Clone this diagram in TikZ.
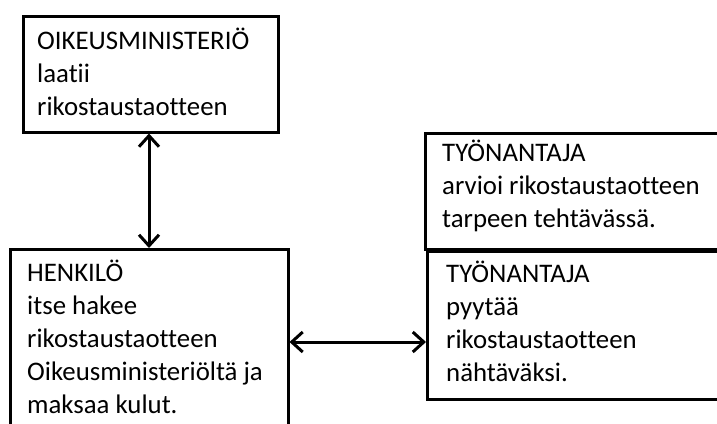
\documentclass[tikz,border=0pt]{standalone}
\usepackage{fontspec}
\setmainfont[Ligatures={NoCommon}]{Carlito}
\usetikzlibrary{arrows.meta}
\begin{document}
\begin{tikzpicture}[x=1pt,y=-1pt,
  boxshape/.style={draw=black,line width=2.5pt,rectangle,inner sep=0pt,anchor=north west},
  boxtext/.style={anchor=base west,align=left,inner sep=0pt,font=\fontsize{26.8}{32.8}\selectfont},
  link/.style={draw=black,line width=3pt,{Straight Barb[length=11pt,width=20pt,line width=3pt]}-{Straight Barb[length=11pt,width=20pt,line width=3pt]}}]
\useasboundingbox (0,0) rectangle (717,423);
\clip (0,0) rectangle (717,423);
\fill[white] (0,0) rectangle (717,423);
\node[boxshape,minimum width=255pt,minimum height=116pt] (b1) at (22,15) {};
\node[boxshape,minimum width=278pt,minimum height=200pt] (b2) at (9,248) {};
\node[boxshape,minimum width=320pt,minimum height=116pt] (b3) at (424,132) {};
\node[boxshape,minimum width=320pt,minimum height=148pt] (b4) at (426,250) {};
\node[boxtext] (t1) at (37,115) {OIKEUSMINISTERIÖ\\laatii\\rikostaustaotteen};
\node[boxtext] (t2) at (27,413) {HENKILÖ\\itse hakee\\rikostaustaotteen\\Oikeusministeriöltä ja\\maksaa kulut.};
\node[boxtext] (t3) at (442,227) {TYÖNANTAJA\\arvioi rikostaustaotteen\\tarpeen tehtävässä.};
\node[boxtext] (t4) at (446,381) {TYÖNANTAJA\\pyytää\\rikostaustaotteen\\nähtäväksi.};
\coordinate (hy) at (0,342);
\draw[link] (149,0 |- b1.south) -- (149,0 |- b2.north);
\draw[link] (b2.east |- hy) -- (b4.west |- hy);
\end{tikzpicture}
\end{document}
